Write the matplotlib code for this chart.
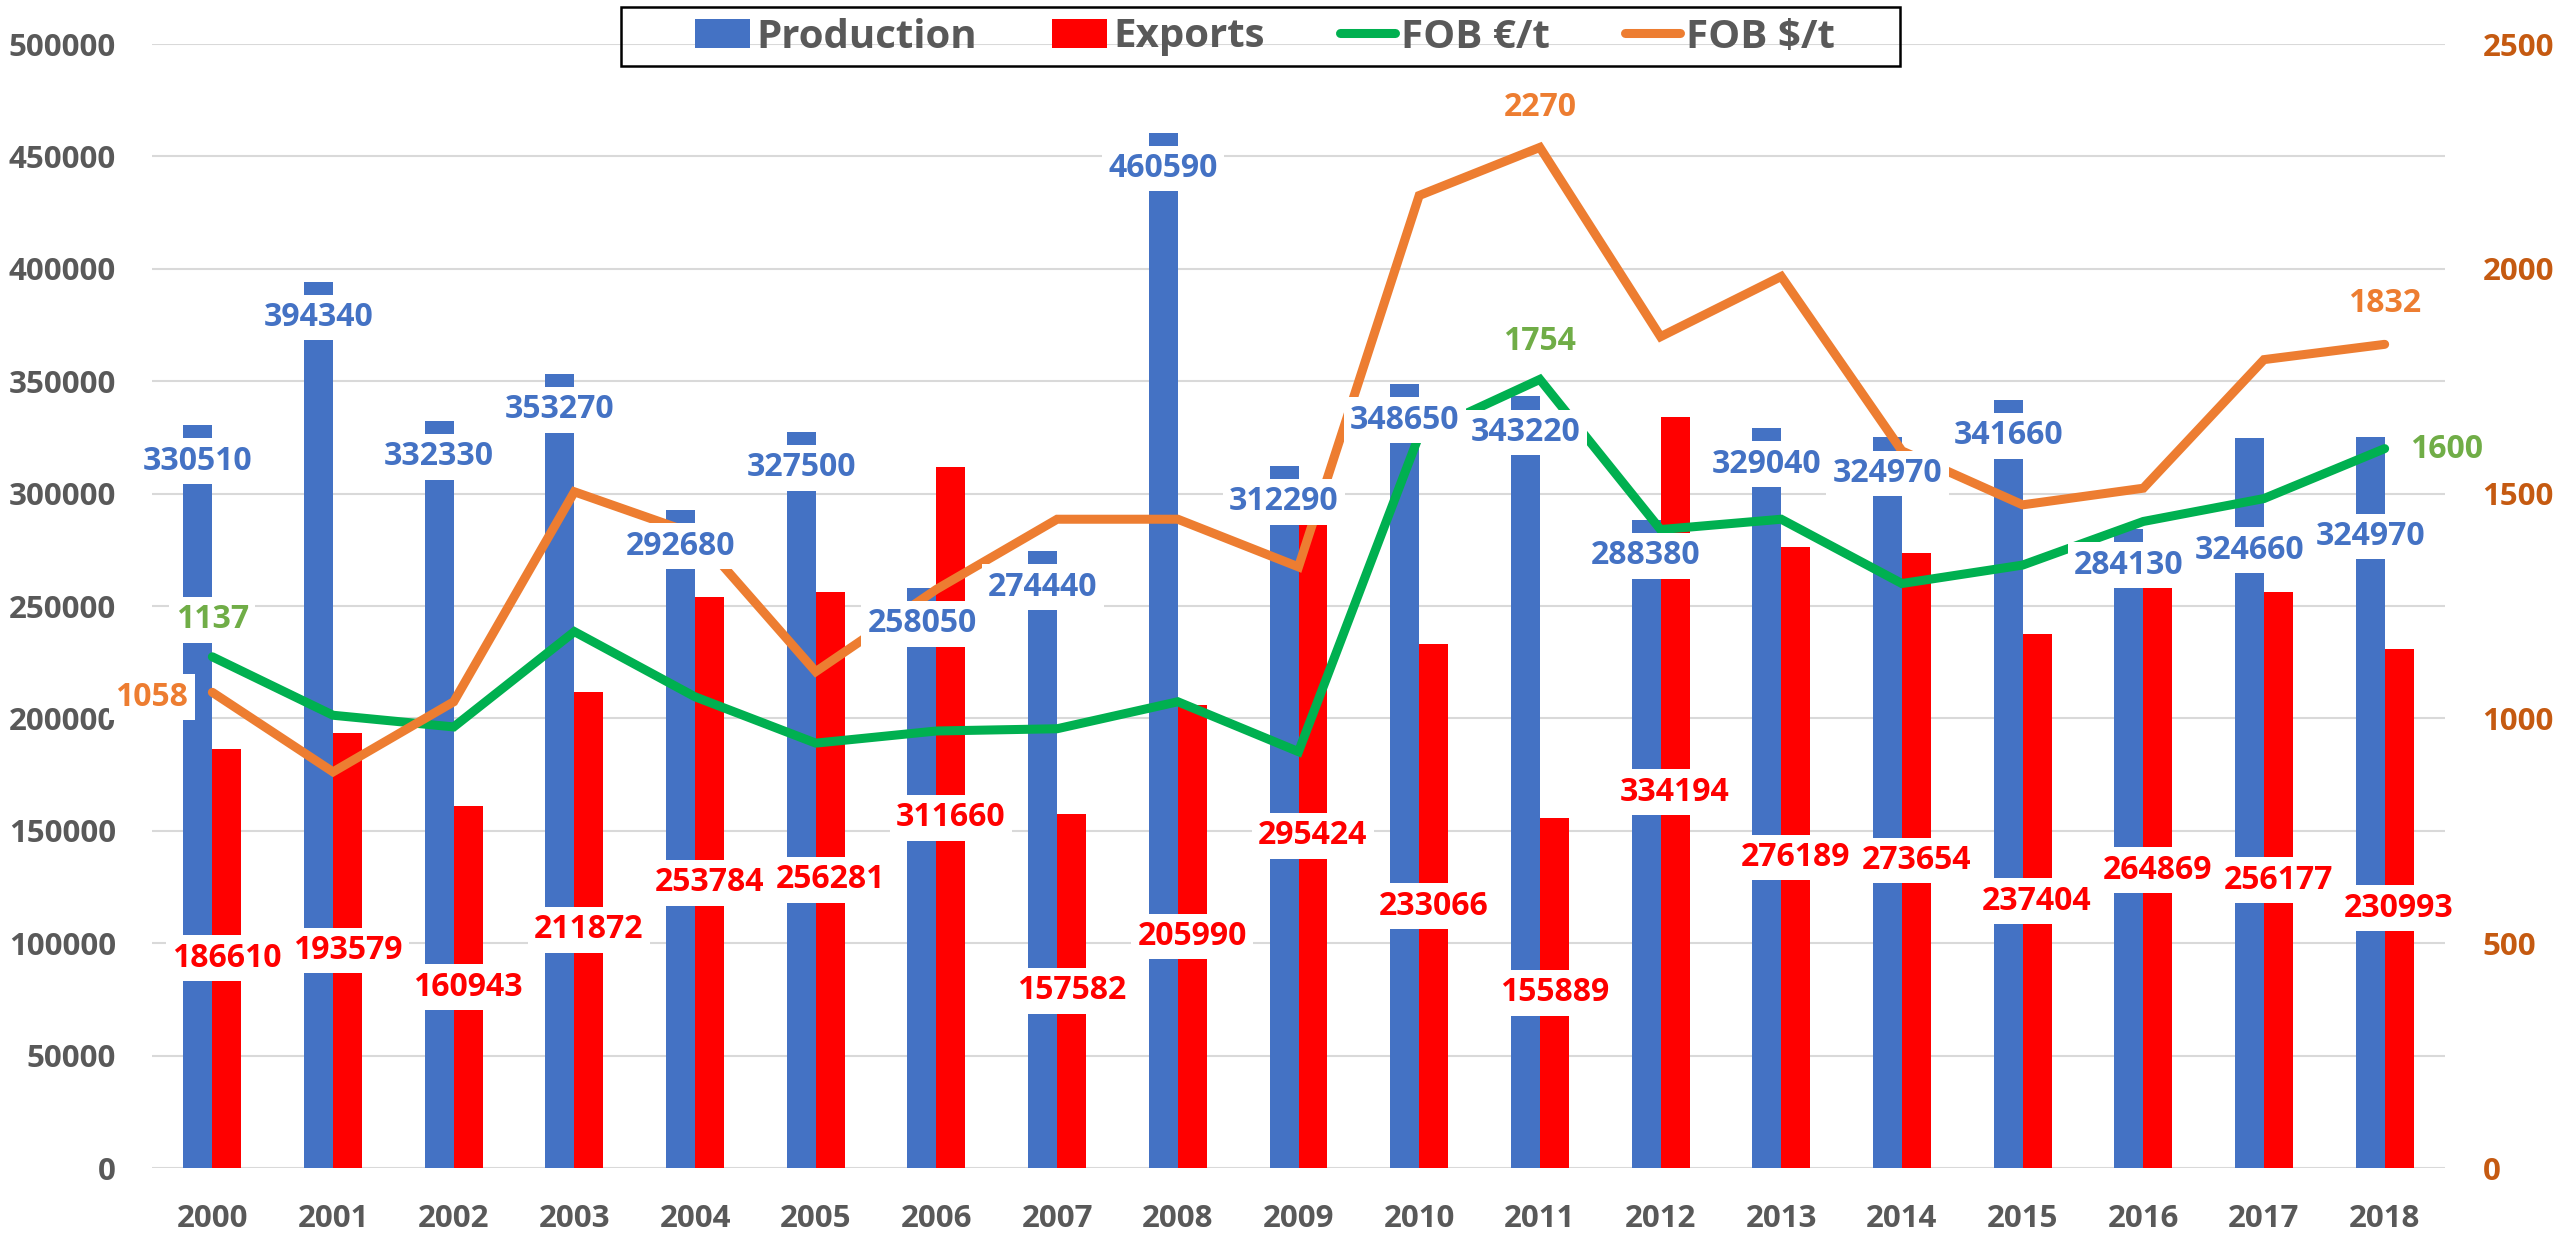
import matplotlib
matplotlib.use("Agg")
import matplotlib.pyplot as plt
from matplotlib.patches import Rectangle
import numpy as np

plt.rcParams["font.family"] = ["Open Sans", "DejaVu Sans"]
plt.rcParams["font.weight"] = "bold"

years = [str(y) for y in range(2000, 2019)]
production = [330510, 394340, 332330, 353270, 292680, 327500, 258050, 274440, 460590, 312290,
              348650, 343220, 288380, 329040, 324970, 341660, 284130, 324660, 324970]
exports = [186610, 193579, 160943, 211872, 253784, 256281, 311660, 157582, 205990, 295424,
           233066, 155889, 334194, 276189, 273654, 237404, 264869, 256177, 230993]
fob_eur = [1137, 1007, 981, 1193, 1048, 945, 972, 977, 1037, 926,
           1630, 1754, 1420, 1443, 1300, 1341, 1438, 1489, 1600]
fob_usd = [1058, 881, 1037, 1504, 1410, 1104, 1287, 1443, 1443, 1337,
           2163, 2270, 1849, 1983, 1595, 1475, 1512, 1798, 1832]

BLUE, RED, GREEN, ORANGE = "#4472C4", "#FF0000", "#00B050", "#ED7D31"
GRAY = "#595959"
FS = 23

# label placement (pixels), picked by eye from the original
prod_dy = [-36] * 17 + [-112, -99]
eur_marks = {0: (0, 37, "center"), 11: (0, 38, "center"), 18: (25, -1, "left")}
usd_marks = {0: (-24, -5, "right"), 11: (0, 40, "center"), 18: (0, 41, "center")}

W, H = 2560, 1233
x = np.arange(len(years))
bw = 0.24

fig = plt.figure(figsize=(W / 100, H / 100), dpi=100)
ax = fig.add_axes([152 / W, 1 - 1168 / H, (2445 - 152) / W, (1168 - 44) / H])
b1 = ax.bar(x - bw / 2, production, bw, color=BLUE, label="Production")
b2 = ax.bar(x + bw / 2, exports, bw, color=RED, label="Exports")
ax.set_xlim(-0.5, len(years) - 0.5)
ax.set_ylim(0, 500000)
ax.set_yticks(np.arange(0, 500001, 50000))
ax.set_xticks(x, years)
ax.yaxis.grid(True, color="#D9D9D9", lw=1.5)
ax.set_axisbelow(True)
ax.tick_params(length=0, labelsize=22.5, labelcolor=GRAY, pad=26)

ax2 = ax.twinx()
ax2.set_ylim(0, 2500)
ax2.set_yticks(range(0, 2501, 500))
ax2.tick_params(length=0, labelsize=22.5, labelcolor="#C55A11", pad=27)
for a in (ax, ax2):
    for s in a.spines.values():
        s.set_visible(False)

l1, = ax2.plot(x, fob_eur, color=GREEN, lw=6.5, solid_capstyle="round",
               solid_joinstyle="miter", label="FOB €/t")
l2, = ax2.plot(x, fob_usd, color=ORANGE, lw=6.5, solid_capstyle="round",
               solid_joinstyle="miter", label="FOB $/t")

box = dict(boxstyle="square,pad=0.2", fc="white", ec="none")
for i in x:
    ax2.annotate(str(production[i]), xy=(i - bw / 2, production[i]), xycoords=ax.transData,
                 xytext=(0, prod_dy[i]), textcoords="offset pixels", ha="center", va="center",
                 color=BLUE, fontsize=FS, bbox=box)
    ax2.annotate(str(exports[i]), xy=(i + bw / 2, exports[i] / 2), xycoords=ax.transData,
                 ha="center", va="center", color=RED, fontsize=FS, bbox=box)
for marks, vals, col in ((eur_marks, fob_eur, "#70AD47"), (usd_marks, fob_usd, ORANGE)):
    for i, (dx, dy, ha) in marks.items():
        ax2.annotate(str(vals[i]), xy=(i, vals[i]), xytext=(dx, dy), textcoords="offset pixels",
                     ha=ha, va="center", color=col, fontsize=FS, bbox=box)

# legend: frameless legend inside a hand-drawn box
fig.add_artist(Rectangle((621 / W, 1 - 66 / H), 1279 / W, 59 / H, transform=fig.transFigure,
                         fill=False, ec="black", lw=1.8))
fig.legend(handles=[b1, b2, l1, l2], loc="center", bbox_to_anchor=(1265 / W, 1 - 37 / H),
           ncol=4, frameon=False, prop=dict(size=29, weight="bold"), labelcolor=GRAY,
           handlelength=1.37, handleheight=0.7, handletextpad=0.15, columnspacing=1.86,
           borderpad=0, borderaxespad=0)

fig.savefig("out.png", dpi=100)
